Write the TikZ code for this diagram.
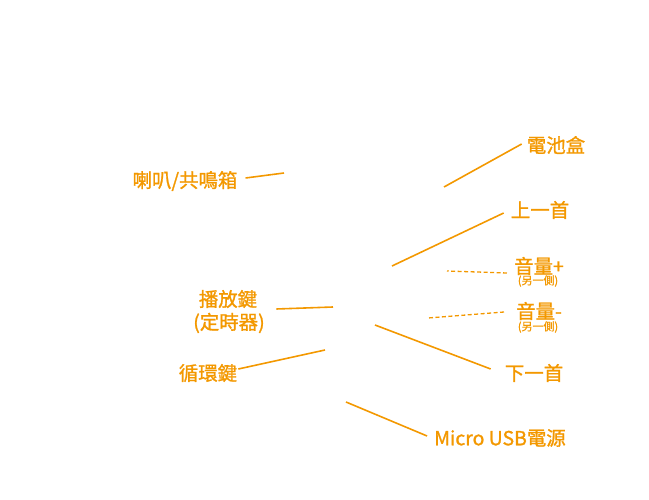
\documentclass[tikz,border=0pt]{standalone}
\usepackage{fontspec}
\setmainfont{Noto Sans CJK TC}
\newfontfamily\lblfont[FakeBold=1.2]{Noto Sans CJK TC}
\usepackage{tikz}
\definecolor{labelorange}{RGB}{243,152,0}

\begin{document}
\begin{tikzpicture}[x=1bp,y=-1bp,
    lbl/.style={text=labelorange, font=\lblfont\fontsize{19.5}{21}\selectfont, inner sep=0pt},
    sublbl/.style={text=labelorange, font=\lblfont\fontsize{11}{12}\selectfont, inner sep=0pt},
    lead/.style={draw=labelorange, line width=1.6pt},
    leaddash/.style={lead, dash pattern=on 4pt off 2.5pt, line width=1.3pt}]

    \useasboundingbox (0,0) rectangle (649,500);

    % labels
    \node[lbl] (speaker) at (185,181) {喇叭/共鳴箱};
    \node[lbl] (battery) at (556,145) {電池盒};
    \node[lbl] (prev)    at (540,210) {上一首};
    \node[lbl] (volup)   at (539,266) {音量+};
    \node[sublbl] (volupside) at (538,281) {(另一側)};
    \node[lbl] (voldown) at (539,311) {音量-};
    \node[sublbl] (voldownside) at (538,327) {(另一側)};
    \node[lbl] (play)    at (228,299) {播放鍵};
    \node[lbl] (timer)   at (229,323) {(定時器)};
    \node[lbl] (loop)    at (208,373) {循環鍵};
    \node[lbl] (next)    at (534,373) {下一首};
    \node[lbl] (usb)     at (500,438) {Micro USB電源};

    % leader ends
    \coordinate (speakerEnd) at (284,173);
    \coordinate (batteryEnd) at (444,187);
    \coordinate (prevEnd)    at (392,266);
    \coordinate (volupEnd)   at (447,271);
    \coordinate (voldownEnd) at (428,318);
    \coordinate (playEnd)    at (333,307);
    \coordinate (loopEnd)    at (325,350);
    \coordinate (nextEnd)    at (375,325);
    \coordinate (usbEnd)     at (346,402);

    \draw[lead] (speaker.east) ++(8,-3) -- (speakerEnd);
    \draw[lead] (battery.west) ++(-5,-1) -- (batteryEnd);
    \draw[lead] (prev.west) ++(-7,3) -- (prevEnd);
    \draw[leaddash] (volup.west) ++(-7,7) -- (volupEnd);
    \draw[leaddash] (voldown.west) ++(-12,1) -- (voldownEnd);
    \draw[lead] (play.east) ++(19,10) -- (playEnd);
    \draw[lead] (loop.east) ++(1,-4) -- (loopEnd);
    \draw[lead] (next.west) ++(-14,-4) -- (nextEnd);
    \draw[lead] (usb.west) ++(-7,-2) -- (usbEnd);
\end{tikzpicture}
\end{document}
